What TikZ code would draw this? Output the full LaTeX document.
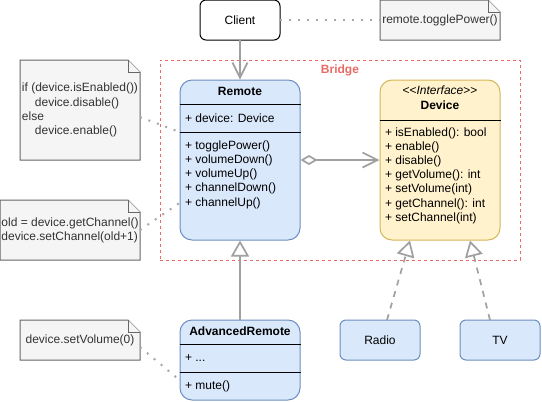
\documentclass[tikz,border=0pt]{standalone}
\usepackage{fontspec}
\setmainfont{Liberation Sans}
\usetikzlibrary{arrows.meta,backgrounds}

\definecolor{blueFill}{HTML}{DAE8FC}
\definecolor{blueLine}{HTML}{6C8EBF}
\definecolor{yellowFill}{HTML}{FFF2CC}
\definecolor{yellowLine}{HTML}{D6B656}
\definecolor{noteFill}{HTML}{F5F5F5}
\definecolor{noteLine}{HTML}{666666}
\definecolor{noteText}{HTML}{333333}
\definecolor{bridgeRed}{HTML}{EA6B66}
\definecolor{linkGray}{HTML}{A0A0A0}
\definecolor{dotGray}{HTML}{A8A8A8}

\tikzset{
	txt/.style={font=\fontsize{12}{14.2}\selectfont, inner sep=0pt, outer sep=0pt},
	classbox/.style={draw=blueLine, fill=blueFill, rounded corners=12pt, line width=1pt, minimum width=120pt},
	ifacebox/.style={classbox, draw=yellowLine, fill=yellowFill},
	simplebox/.style={txt, draw=blueLine, fill=blueFill, rounded corners=6pt, line width=1pt, minimum width=80pt, minimum height=40pt},
	notebox/.style={txt, text=noteText, align=left},
	members/.style={txt, align=left, anchor=west},
	rowline/.style={line width=1pt},
	dotlink/.style={dotGray, line width=2pt, dash pattern=on 2pt off 7pt},
	link/.style={linkGray, line width=1.7pt},
	openhead/.style={-{Straight Barb[length=15pt,width=15pt]}},
	hollowhead/.style={-{Triangle[fill=white,length=16pt,width=18pt]}},
}

% note with folded corner, drawn behind its text
\newcommand{\notefold}[1]{%
	\begin{scope}[on background layer]
		\draw [noteLine, fill=noteFill, line width=1pt] (#1.north west) -- ([xshift=-12pt]#1.north east) -- ([yshift=-12pt]#1.north east) -- (#1.south east) -- (#1.south west) -- cycle;
		\draw [noteLine, fill=noteFill, line width=1pt] ([xshift=-12pt]#1.north east) -- ([xshift=-12pt,yshift=-12pt]#1.north east) -- ([yshift=-12pt]#1.north east);
	\end{scope}}

\begin{document}
\begin{tikzpicture}[x=1pt, y=-1pt]
	\useasboundingbox (0,0) rectangle (542,402);

	\node (bridge)[draw=bridgeRed, dash pattern=on 3pt off 3pt, line width=1pt, minimum width=360pt, minimum height=200pt] at (340,160) {};
	\node (bridgelabel)[txt, text=bridgeRed] at (340,70) {\bfseries Bridge};

	\node (client)[txt, draw, fill=white, rounded corners=6pt, line width=1pt, minimum width=80pt, minimum height=40pt] at (240,20) {Client};
	\node (togglenote)[notebox, minimum width=120pt, minimum height=40pt] at (440,20) {remote.togglePower()};
	\notefold{togglenote}

	% Remote
	\node (remote)[classbox, minimum height=160pt] at (240,160) {};
	\node (remotename)[txt] at (240,91) {\bfseries Remote};
	\draw [rowline] (remote.west |- 0,104) -- (remote.east |- 0,104);
	\node (remoteattr)[members] at (185,118) {+ device: Device};
	\draw [rowline] (remote.west |- 0,132) -- (remote.east |- 0,132);
	\node (remoteops)[members] at (185,174.5) {+ togglePower()\\+ volumeDown()\\+ volumeUp()\\+ channelDown()\\+ channelUp()};

	% Device
	\node (device)[ifacebox, minimum height=160pt] at (440,160) {};
	\node (devicestereo)[txt] at (440,90) {<\kern0pt<\textit{Interface}>\kern0pt>};
	\node (devicename)[txt] at (440,105) {\bfseries Device};
	\draw [rowline] (device.west |- 0,120) -- (device.east |- 0,120);
	\node (deviceops)[members] at (385,175.5) {+ isEnabled(): bool\\+ enable()\\+ disable()\\+ getVolume(): int\\+ setVolume(int)\\+ getChannel(): int\\+ setChannel(int)};

	% AdvancedRemote
	\node (advremote)[classbox, minimum height=80pt] at (240,360) {};
	\node (advremotename)[txt] at (240,331) {\bfseries AdvancedRemote};
	\draw [rowline] (advremote.west |- 0,344) -- (advremote.east |- 0,344);
	\node (advremoteattr)[members] at (185,358) {+ ...};
	\draw [rowline] (advremote.west |- 0,372) -- (advremote.east |- 0,372);
	\node (advremoteops)[members] at (185,386) {+ mute()};

	\node (radio)[simplebox] at (380,340) {Radio};
	\node (tv)[simplebox] at (500,340) {TV};

	% notes
	\node (ifnote)[notebox, minimum width=120pt, minimum height=100pt] at (80,110) {if (device.isEnabled())\\\hspace*{13pt}device.disable()\\else\\\hspace*{13pt}device.enable()};
	\notefold{ifnote}
	\node (channelnote)[notebox, minimum width=140pt, minimum height=60pt] at (70,230) {old = device.getChannel()\\device.setChannel(old+1)};
	\notefold{channelnote}
	\node (mutenote)[notebox, minimum width=120pt, minimum height=40pt] at (80,340) {device.setVolume(0)};
	\notefold{mutenote}

	% links
	\draw [dotlink] (client) -- (togglenote);
	\draw [link, openhead] (client) -- (remote);
	\draw [link, {Diamond[fill=white,length=17pt,width=10pt]}-{Straight Barb[length=15pt,width=15pt]}] (remote) -- (device);
	\draw [link, hollowhead] (advremote) -- (remote);
	\draw [link, dash pattern=on 6pt off 6pt, hollowhead] ([xshift=7pt]radio.north) -- ([xshift=-30pt]device.south);
	\draw [link, dash pattern=on 6pt off 6pt, hollowhead] ([xshift=-10pt]tv.north) -- ([xshift=30pt]device.south);

	\draw [dotlink] ([yshift=-7pt]ifnote.east) -- (remote.west |- 0,132);
	\draw [dotlink] (channelnote.east) -- (remote.west |- 0,203);
	\draw [dotlink] ([yshift=-7pt]mutenote.east) -- (advremote.west |- 0,380);
\end{tikzpicture}
\end{document}
